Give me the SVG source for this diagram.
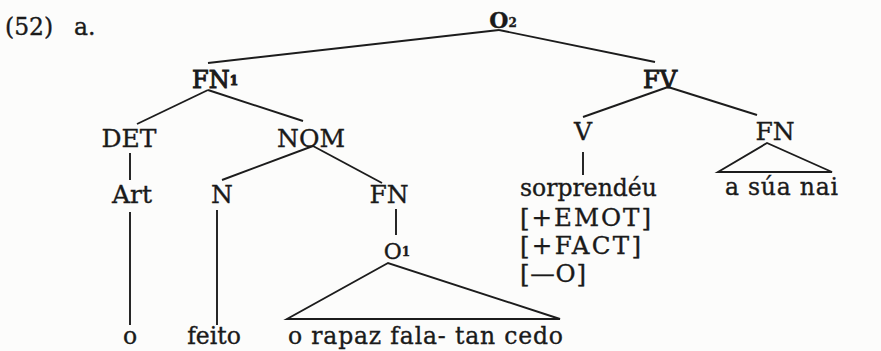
<svg xmlns="http://www.w3.org/2000/svg" width="881" height="351" viewBox="0 0 881 351">
<style>
text{font-family:"DejaVu Serif","Liberation Serif",serif;fill:#1a1a1a;stroke:#1a1a1a;stroke-width:0.35}
.lab{font-size:25px;text-anchor:middle}
.top{font-size:24px;text-anchor:middle;stroke-width:1}
.o2{font-size:22px;font-weight:bold;text-anchor:middle}
.sub{font-size:12px;font-weight:bold}
.w{font-size:23.5px}
.f{font-size:24.5px}
.e line,.e polygon{stroke:#1c1c1c;stroke-width:1.9;fill:none;stroke-linejoin:miter}
</style>
<rect width="881" height="351" fill="#fcfcfb"/>
<text class="w" x="5" y="35">(52)</text>
<text class="w" x="74" y="35">a.</text>
<g class="e" id="connectors">
<line x1="499" y1="30" x2="208" y2="63"/>
<line x1="499" y1="30" x2="655" y2="62"/>
<line x1="208" y1="90" x2="137" y2="124"/>
<line x1="208" y1="90" x2="303" y2="121"/>
<line x1="130" y1="153" x2="130" y2="180"/>
<line x1="313" y1="146" x2="222" y2="180"/>
<line x1="313" y1="146" x2="382" y2="183"/>
<line x1="130" y1="212" x2="130" y2="325"/>
<line x1="217" y1="210" x2="217" y2="325"/>
<line x1="396" y1="209" x2="396" y2="235"/>
<polygon points="388,263 287,319 560,319"/>
<line x1="668" y1="87" x2="583" y2="117"/>
<line x1="668" y1="87" x2="757" y2="115"/>
<line x1="583" y1="152" x2="583" y2="175"/>
<polygon points="767,143 718,172 832,172"/>
</g>
<g id="O2"><text class="o2" x="503" y="28">O<tspan class="sub" dy="-1">2</tspan></text></g>
<g id="FN1"><text class="top" x="215" y="88">FN<tspan class="sub" dy="-3">1</tspan></text></g>
<g id="FV"><text class="top" x="660" y="88">FV</text></g>
<g id="DET"><text class="lab" x="129" y="147">DET</text></g>
<g id="NOM"><text class="lab" x="311" y="147">NOM</text></g>
<g id="Art"><text class="lab" x="132" y="203">Art</text></g>
<g id="N"><text class="lab" x="222" y="203">N</text></g>
<g id="FN-nom"><text class="lab" x="389" y="203">FN</text></g>
<g id="O1"><text class="lab" x="397" y="259" style="font-size:22px">O<tspan class="sub" dy="-3">1</tspan></text></g>
<g id="V"><text class="lab" x="583" y="140">V</text></g>
<g id="FN-fv"><text class="lab" x="775" y="140">FN</text></g>
<g id="t-o"><text class="w" x="130" y="344" text-anchor="middle">o</text></g>
<g id="t-feito"><text class="w" x="214" y="344" text-anchor="middle">feito</text></g>
<g id="t-o1"><text class="w" x="288" y="344" textLength="275" lengthAdjust="spacing">o rapaz fala- tan cedo</text></g>
<g id="t-verb">
<text class="w" x="520" y="196">sorprendéu</text>
<text class="f" x="520" y="226" textLength="131" lengthAdjust="spacing">[+EMOT]</text>
<text class="f" x="520" y="254" textLength="121" lengthAdjust="spacing">[+FACT]</text>
<text class="f" x="520" y="282" textLength="66" lengthAdjust="spacing">[—O]</text>
</g>
<g id="t-fn"><text class="w" x="725" y="195" textLength="113" lengthAdjust="spacing">a súa nai</text></g>
</svg>
